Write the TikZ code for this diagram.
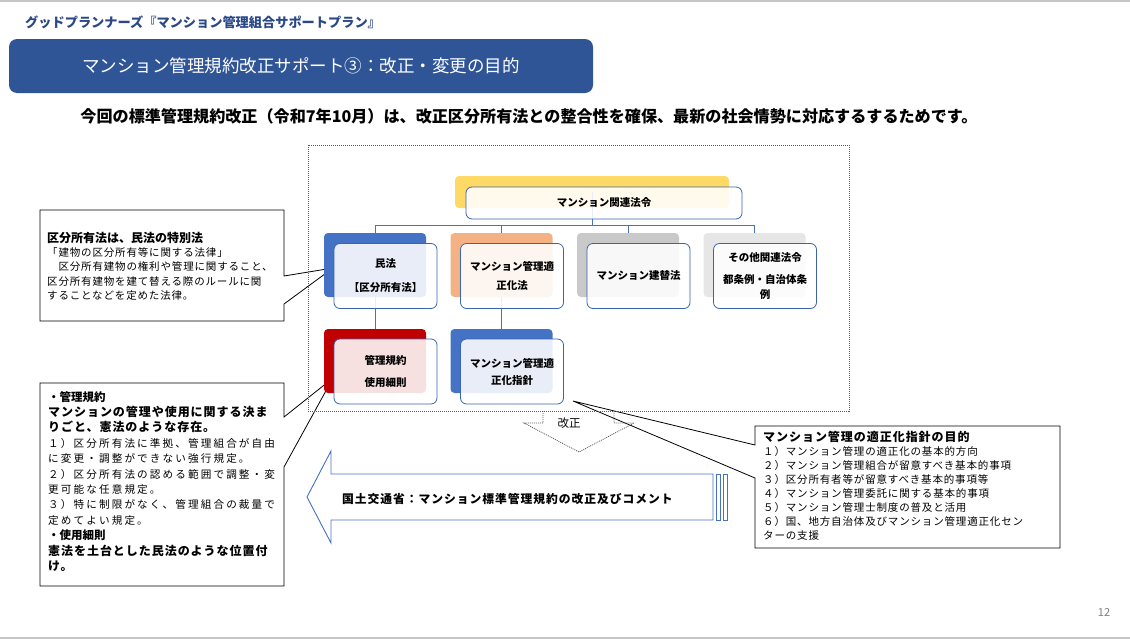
\documentclass[tikz,border=0pt]{standalone}
\usepackage{fontspec}
\setmainfont{Noto Sans CJK JP}
\newfontfamily\jpsp[LetterSpace=8]{Noto Sans CJK JP}
\newfontfamily\jpspp[LetterSpace=20]{Noto Sans CJK JP}
\usetikzlibrary{positioning}
\definecolor{bannerblue}{RGB}{47,85,151}
\definecolor{headblue}{RGB}{42,72,135}
\definecolor{boxline}{RGB}{58,100,174}
\definecolor{linkblue}{RGB}{68,114,196}
\definecolor{backblue}{RGB}{68,114,196}
\definecolor{backorange}{RGB}{244,177,131}
\definecolor{backgray}{RGB}{201,201,201}
\definecolor{backlight}{RGB}{231,230,230}
\definecolor{backyellow}{RGB}{255,217,102}
\definecolor{backred}{RGB}{192,0,0}
\definecolor{dotgray}{RGB}{90,90,90}
\newcommand{\orgfont}{\fontsize{10.5}{13}\selectfont\bfseries}
\newcommand{\noteheadA}{\fontsize{12}{14.25}\selectfont\bfseries}
\newcommand{\notebodyA}{\fontsize{10.5}{14.25}\selectfont\jpsp}
\newcommand{\noteheadB}{\fontsize{12}{15.4}\selectfont\jpsp\bfseries}
\newcommand{\notesubB}{\fontsize{11.5}{15.4}\selectfont\bfseries}
\newcommand{\notebodyB}{\fontsize{10.6}{15.4}\selectfont\jpspp}
\newcommand{\noteheadC}{\fontsize{12}{14}\selectfont\jpsp\bfseries}
\newcommand{\notebodyC}{\fontsize{10.5}{14}\selectfont\jpsp}

\begin{document}
\begin{tikzpicture}[x=1pt, y=-1pt,
    backbox/.style={rectangle, rounded corners=4pt, minimum width=102pt,
        minimum height=64pt, inner sep=0pt},
    frontbox/.style={rectangle, draw=boxline, line width=0.8pt, fill=white,
        fill opacity=0.88, text opacity=1, rounded corners=6pt,
        minimum width=103pt, minimum height=65pt, inner sep=0pt,
        align=center, font=\orgfont},
    link/.style={draw=linkblue, line width=0.8pt},
    callout/.style={draw=black, line width=0.8pt, fill=white},
    dotline/.style={draw=dotgray, line width=0.8pt, dash pattern=on 1pt off 1pt},
    note/.style={anchor=north west, inner sep=0pt, align=left}
    ]
    \useasboundingbox (0,0) rectangle (1130,640);

    % Page frame
    \draw[gray!45, line width=1.5pt] (0,1) -- (1130,1);
    \draw[gray!45, line width=1.5pt] (0,638) -- (1130,638);
    \node[anchor=west, inner sep=0pt, text=headblue, font=\fontsize{13.2}{14}\selectfont\bfseries] (header) at (25,22) {グッドプランナーズ『マンション管理組合サポートプラン』};
    \node[fill=bannerblue, rounded corners=8pt, minimum width=584pt, minimum height=54pt, inner sep=0pt, text=white, font=\fontsize{17.5}{20}\selectfont] (banner) at (301,66) {マンション管理規約改正サポート③：改正・変更の目的};
    \node[inner sep=0pt, font=\fontsize{16.1}{18}\selectfont\bfseries] (lead) at (529,116) {今回の標準管理規約改正（令和7年10月）は、改正区分所有法との整合性を確保、最新の社会情勢に対応するするためです。};
    \node[text=gray, font=\fontsize{11}{12}\selectfont, inner sep=0pt] (pageno) at (1104,612) {12};

    % Callouts
    \coordinate (tipminpo) at (333,268);
    \coordinate (tipkiyaku) at (333,378);
    \coordinate (tipshishin) at (573,401);
    \draw[callout] (40,210) -- (284,210) -- (284,276) -- (tipminpo) -- (284,304) -- (284,321) -- (40,321) -- cycle;
    \draw[callout] (40,383) -- (284,383) -- (284,417) -- (tipkiyaku) -- (284,467) -- (284,586) -- (40,586) -- cycle;
    \draw[callout] (755,426) -- (1060,426) -- (1060,548) -- (755,548) -- (755,478) -- (tipshishin) -- (755,445) -- cycle;

    \node[note, font=\fontsize{10.5}{14.25}\selectfont] (kubunnote) at (47,232) {%
        {\noteheadA 区分所有法は、民法の特別法}\\
        {\notebodyA 「建物の区分所有等に関する法律」}\\
        {\notebodyA 　区分所有建物の権利や管理に関すること、}\\
        {\notebodyA 区分所有建物を建て替える際のルールに関}\\
        {\notebodyA することなどを定めた法律。}};
    \node[note, font=\fontsize{10.6}{15.4}\selectfont] (kiyakunote) at (48,391) {%
        {\notesubB ・管理規約}\\
        {\noteheadB マンションの管理や使用に関する決ま}\\
        {\noteheadB りごと、憲法のような存在。}\\
        {\notebodyB １）区分所有法に準拠、管理組合が自由}\\
        {\notebodyB に変更・調整ができない強行規定。}\\
        {\notebodyB ２）区分所有法の認める範囲で調整・変}\\
        {\notebodyB 更可能な任意規定。}\\
        {\notebodyB ３）特に制限がなく、管理組合の裁量で}\\
        {\notebodyB 定めてよい規定。}\\
        {\notesubB ・使用細則}\\
        {\noteheadB 憲法を土台とした民法のような位置付}\\
        {\noteheadB け。}};
    \node[note, font=\fontsize{10.5}{14}\selectfont] (shishinnote) at (763,431) {%
        {\noteheadC マンション管理の適正化指針の目的}\\
        {\notebodyC １）マンション管理の適正化の基本的方向}\\
        {\notebodyC ２）マンション管理組合が留意すべき基本的事項}\\
        {\notebodyC ３）区分所有者等が留意すべき基本的事項等}\\
        {\notebodyC ４）マンション管理委託に関する基本的事項}\\
        {\notebodyC ５）マンション管理士制度の普及と活用}\\
        {\notebodyC ６）国、地方自治体及びマンション管理適正化セン}\\
        {\notebodyC ターの支援}};

    % Dotted frame and revision arrow
    \draw[dotline] (308,145) rectangle (849,411);
    \draw[dotline] (543,411) -- (543,423) -- (524,423) -- (579,452) -- (634,423) -- (614,423) -- (614,411);
    \node[font=\fontsize{11.5}{13}\selectfont, inner sep=0pt] (kaisei) at (569,423) {改正};

    % Links
    \node[backbox, fill=backyellow, minimum width=274pt, minimum height=32pt] (kanrenback) at (592,192) {};
    \draw[link] (kanrenback.center) -- ++(0,33) coordinate (bus);
    \node[backbox, fill=backblue] (minpoback) at (375,265) {};
    \node[backbox, fill=backorange] (tekiseihoback) at (501.5,265) {};
    \node[backbox, fill=backgray] (tatekaeback) at (628,265) {};
    \node[backbox, fill=backlight] (sonotaback) at (754.5,265) {};
    \node[backbox, fill=backred] (kiyakuback) at (375,361) {};
    \node[backbox, fill=backblue] (shishinback) at (501.5,361) {};
    \foreach \n in {minpoback, tekiseihoback, tatekaeback, sonotaback}
        \draw[link] (bus) -| (\n.north);
    \draw[link] (minpoback.south) -- (kiyakuback.north);
    \draw[link] (tekiseihoback.south) -- (shishinback.north);

    % Nodes
    \node[frontbox, minimum width=276pt, minimum height=32pt] (kanren) at (604,203) {マンション関連法令};
    \node[frontbox] (minpo) at (385.5,276) {民法\\[11pt]【区分所有法】};
    \node[frontbox] (tekiseiho) at (512,276) {マンション管理適\\[6pt]正化法};
    \node[frontbox] (tatekae) at (638.5,276) {マンション建替法};
    \node[frontbox] (sonota) at (765,276) {その他関連法令\\[9pt]都条例・自治体条\\[2pt]例};
    \node[frontbox] (kiyaku) at (385.5,371.5) {管理規約\\[9pt]使用細則};
    \node[frontbox] (shishin) at (512,371.5) {マンション管理適\\[4pt]正化指針};

    % Ministry arrow
    \draw[draw=linkblue, line width=0.9pt, fill=white] (307,497) -- (331,451) -- (331,474) -- (713,474) -- (713,520) -- (331,520) -- (331,543) -- cycle;
    \draw[draw=linkblue, line width=0.9pt] (716,474) rectangle (720,520);
    \draw[draw=linkblue, line width=0.9pt] (723,474) rectangle (727,520);
    \node[anchor=west, inner sep=0pt, font=\fontsize{11.8}{13}\selectfont\jpsp\bfseries] (mlit) at (342,499) {国土交通省：マンション標準管理規約の改正及びコメント};
\end{tikzpicture}
\end{document}
